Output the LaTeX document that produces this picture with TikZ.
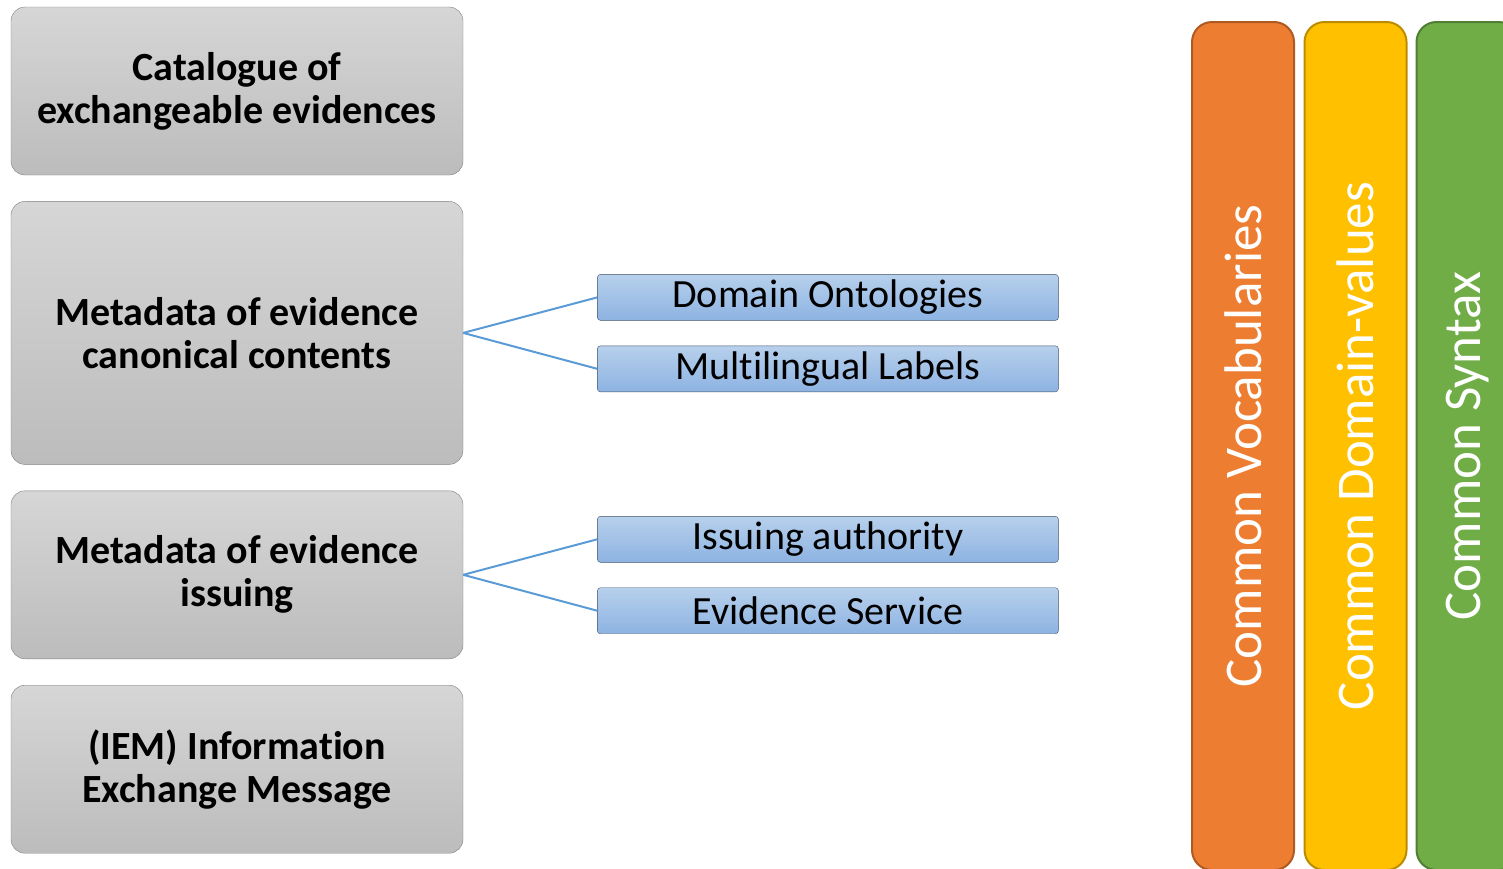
\documentclass[tikz,border=0pt]{standalone}
\usepackage{fontspec}
\setmainfont{Carlito}[Ligatures=NoCommon]
\usetikzlibrary{positioning}

\definecolor{greytop}{HTML}{D6D6D6}
\definecolor{greybot}{HTML}{BCBCBC}
\definecolor{greyline}{HTML}{7F7F7F}
\definecolor{bluetop}{HTML}{B7D0EC}
\definecolor{bluebot}{HTML}{8DB3E2}
\definecolor{blueline}{HTML}{44546A}
\definecolor{linkblue}{HTML}{5B9BD5}
\definecolor{vocabfill}{HTML}{ED7D31}
\definecolor{vocabline}{HTML}{AE5A21}
\definecolor{domainfill}{HTML}{FFC000}
\definecolor{domainline}{HTML}{BC8C00}
\definecolor{syntaxfill}{HTML}{70AD47}
\definecolor{syntaxline}{HTML}{507E32}

\begin{document}
\begin{tikzpicture}[
  x = 1pt, y = -1pt,
  node distance = 26pt and 134pt,
  topic/.style = {rectangle, draw=greyline, rounded corners=14pt,
                  top color=greytop, bottom color=greybot, align=center,
                  minimum width=452pt, minimum height=168pt, inner sep=0pt,
                  font=\bfseries\fontsize{40}{43}\selectfont},
  part/.style  = {rectangle, draw=blueline, rounded corners=3pt,
                  top color=bluetop, bottom color=bluebot,
                  minimum width=461pt, minimum height=46pt, inner sep=0pt,
                  font=\fontsize{40}{44}\selectfont},
  layer/.style = {rectangle, rounded corners=20pt, line width=2pt,
                  minimum width=848pt, minimum height=102pt, rotate=90,
                  text=white, font=\fontsize{53}{60}\selectfont},
  link/.style  = {draw=linkblue, line width=2pt}
]
\useasboundingbox (0,0) rectangle (1503,868);

% left column
\node[topic] (cat) at (237,91) {Catalogue of\\exchangeable evidences};
\node[topic, below=of cat, minimum height=263pt] (canon)
  {Metadata of evidence\\canonical contents};
\node[topic, below=of canon] (issue) {Metadata of evidence\\issuing};
\node[topic, below=of issue] (iem) {(IEM) Information\\Exchange Message};

% middle column
\node[part, right=of canon.east, yshift=35.5pt] (onto) {Domain Ontologies};
\node[part, below=25pt of onto] (multi) {Multilingual Labels};
\node[part, right=of issue.east, yshift=35.5pt] (auth) {Issuing authority};
\node[part, below=25pt of auth] (serv) {Evidence Service};

\draw[link] (canon.east) -- (onto.west);
\draw[link] (canon.east) -- (multi.west);
\draw[link] (issue.east) -- (auth.west);
\draw[link] (issue.east) -- (serv.west);

% right bars
\node[layer, fill=vocabfill, draw=vocabline] (vocab) at (1243,446)
  {Common Vocabularies};
\node[layer, fill=domainfill, draw=domainline] (domval) at (1355.5,446)
  {Common Domain-values};
\node[layer, fill=syntaxfill, draw=syntaxline] (syntax) at (1467.5,446)
  {Common Syntax};
\end{tikzpicture}
\end{document}
